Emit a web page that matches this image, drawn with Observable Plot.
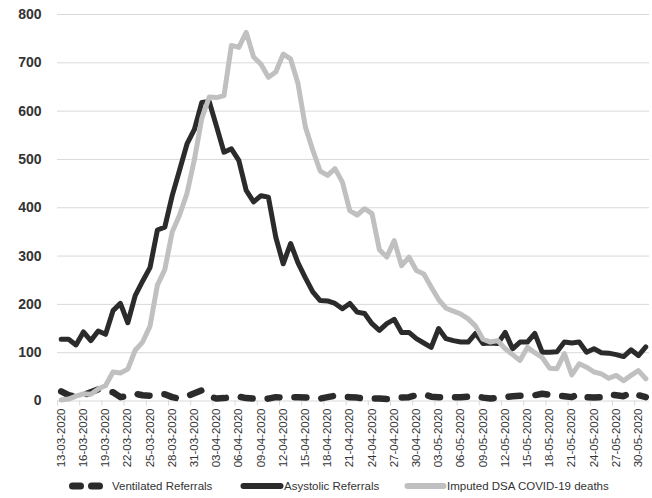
<!DOCTYPE html>
<html><head><meta charset="utf-8">
<script src="https://cdn.jsdelivr.net/npm/d3@7"></script>
<script src="https://cdn.jsdelivr.net/npm/@observablehq/plot@0.6"></script>
<style>
body{margin:0;background:#fff;font-family:"Liberation Sans",Arial,sans-serif;}
#chart svg{display:block;}
#legend{position:relative;width:652px;height:20px;font-size:11.5px;color:#333;}
#legend .item{position:absolute;top:0px;height:16px;display:flex;align-items:center;}
#legend svg{display:block;}
</style></head><body>
<div id="chart"></div>
<div id="legend"></div>
<script>
const dates = [
"13-03-2020","14-03-2020","15-03-2020","16-03-2020","17-03-2020","18-03-2020","19-03-2020","20-03-2020","21-03-2020","22-03-2020",
"23-03-2020","24-03-2020","25-03-2020","26-03-2020","27-03-2020","28-03-2020","29-03-2020","30-03-2020","31-03-2020",
"01-04-2020","02-04-2020","03-04-2020","04-04-2020","05-04-2020","06-04-2020","07-04-2020","08-04-2020","09-04-2020","10-04-2020",
"11-04-2020","12-04-2020","13-04-2020","14-04-2020","15-04-2020","16-04-2020","17-04-2020","18-04-2020","19-04-2020","20-04-2020",
"21-04-2020","22-04-2020","23-04-2020","24-04-2020","25-04-2020","26-04-2020","27-04-2020","28-04-2020","29-04-2020","30-04-2020",
"01-05-2020","02-05-2020","03-05-2020","04-05-2020","05-05-2020","06-05-2020","07-05-2020","08-05-2020","09-05-2020","10-05-2020",
"11-05-2020","12-05-2020","13-05-2020","14-05-2020","15-05-2020","16-05-2020","17-05-2020","18-05-2020","19-05-2020","20-05-2020",
"21-05-2020","22-05-2020","23-05-2020","24-05-2020","25-05-2020","26-05-2020","27-05-2020","28-05-2020","29-05-2020","30-05-2020","31-05-2020"
];
const ventilated = [20,12,9,12,18,24,20,18,8,10, 15,12,11,13,14,8,5,10,16,22, 10,5,6,8,9,6,5,4,5,8, 7,8,8,7,8,5,8,11,9,8,
 7,5,5,5,4,5,7,8,12,14, 9,8,8,8,8,9,11,7,5,7, 8,10,11,11,12,15,13,11,10,8, 15,8,7,8,14,12,10,18,12,8];
const asystolic = [128,128,116,143,125,145,138,187,202,162, 218,248,276,354,360,425,478,532,562,618,
 620,568,515,522,498,436,412,425,422,339, 284,326,286,255,226,208,207,202,191,202,
 184,181,160,146,160,169,142,142,129,120, 111,150,129,125,122,122,140,119,120,119,
 142,108,122,122,140,101,101,102,122,120, 122,101,108,100,99,96,92,106,94,112];
const dsaDeaths = [2,4,10,15,14,25,32,60,58,66, 105,122,155,240,272,350,385,430,500,585,
 629,628,632,736,732,763,712,697,670,681, 718,708,657,567,519,476,467,481,453,394,
 385,398,388,313,298,332,280,298,270,263, 236,210,192,186,180,170,155,128,122,125,
 108,96,84,111,100,90,68,67,98,54, 77,70,60,56,47,53,42,53,63,46];
const xTickLabels = ["13-03-2020","16-03-2020","19-03-2020","22-03-2020","25-03-2020","28-03-2020","31-03-2020",
"03-04-2020","06-04-2020","09-04-2020","12-04-2020","15-04-2020","18-04-2020","21-04-2020","24-04-2020","27-04-2020","30-04-2020",
"03-05-2020","06-05-2020","09-05-2020","12-05-2020","15-05-2020","18-05-2020","21-05-2020","24-05-2020","27-05-2020","30-05-2020"];
const yTicks = [0,100,200,300,400,500,600,700,800];
const seriesNames = ["Ventilated Referrals","Asystolic Referrals","Imputed DSA COVID-19 deaths"];

const rows = dates.map((d,i)=>({date:d, ventilated:ventilated[i], asystolic:asystolic[i], dsa:dsaDeaths[i]}));
const W = 652, ML = 57, MR = 3, H = 478, MT = 14, MB = H - 400.5;
const step = (W-ML-MR)/dates.length;

const plot = Plot.plot({
  width: W, height: H,
  marginTop: MT, marginBottom: MB, marginLeft: ML, marginRight: MR,
  style: {fontFamily: '"Liberation Sans", Arial, sans-serif', color: "#333", background: "#fff"},
  x: {type: "point", domain: dates, padding: 0.5},
  y: {domain: [0, 800]},
  marks: [
    Plot.gridY(yTicks, {stroke: "#d9d9d9", strokeOpacity: 1, strokeWidth: 1}),
    Plot.axisY({ticks: yTicks, tickSize: 0, tickPadding: 16, fontSize: 14, fontWeight: "bold", fill: "#333", label: null}),
    Plot.axisX({ticks: xTickLabels, tickSize: 5, tickFormat: () => "", dx: -step/2, stroke: "#d9d9d9", strokeOpacity: 1, label: null}),
    Plot.axisX({ticks: xTickLabels, tickSize: 0, tickPadding: 7.5, tickRotate: -90, fontSize: 11.5, fill: "#333", label: null}),
    Plot.line(rows, {x: "date", y: "ventilated", stroke: "#2b2b2b", strokeWidth: 6.5, strokeLinecap: "round", strokeLinejoin: "round", strokeDasharray: "12 15"}),
    Plot.line(rows, {x: "date", y: "asystolic", stroke: "#2b2b2b", strokeWidth: 5, strokeLinejoin: "round", strokeLinecap: "round"}),
    Plot.line(rows, {x: "date", y: "dsa", stroke: "#c0c0c0", strokeWidth: 5, strokeLinejoin: "round", strokeLinecap: "round"})
  ]
});
document.getElementById("chart").appendChild(plot);

const legend = document.getElementById("legend");
const items = [
  {name: seriesNames[0], left: 69, w: 38, stroke: "#2b2b2b", dash: "8 11", sw: 7},
  {name: seriesNames[1], left: 240, w: 44, stroke: "#2b2b2b", dash: null, sw: 6},
  {name: seriesNames[2], left: 404, w: 43, stroke: "#c0c0c0", dash: null, sw: 6}
];
for (const it of items) {
  const div = document.createElement("div");
  div.className = "item";
  div.style.left = it.left + "px";
  const ns = "http://www.w3.org/2000/svg";
  const svg = document.createElementNS(ns, "svg");
  svg.setAttribute("width", it.w); svg.setAttribute("height", 10);
  const ln = document.createElementNS(ns, "line");
  ln.setAttribute("x1", 3.5); ln.setAttribute("x2", it.w - 3.5);
  ln.setAttribute("y1", 5); ln.setAttribute("y2", 5);
  ln.setAttribute("stroke", it.stroke); ln.setAttribute("stroke-width", it.sw);
  ln.setAttribute("stroke-linecap", "round");
  if (it.dash) ln.setAttribute("stroke-dasharray", it.dash);
  svg.appendChild(ln);
  div.appendChild(svg);
  const sp = document.createElement("span");
  sp.textContent = it.name;
  sp.style.marginLeft = it.dash ? "5px" : "0px";
  div.appendChild(sp);
  legend.appendChild(div);
}
</script>
</body></html>
